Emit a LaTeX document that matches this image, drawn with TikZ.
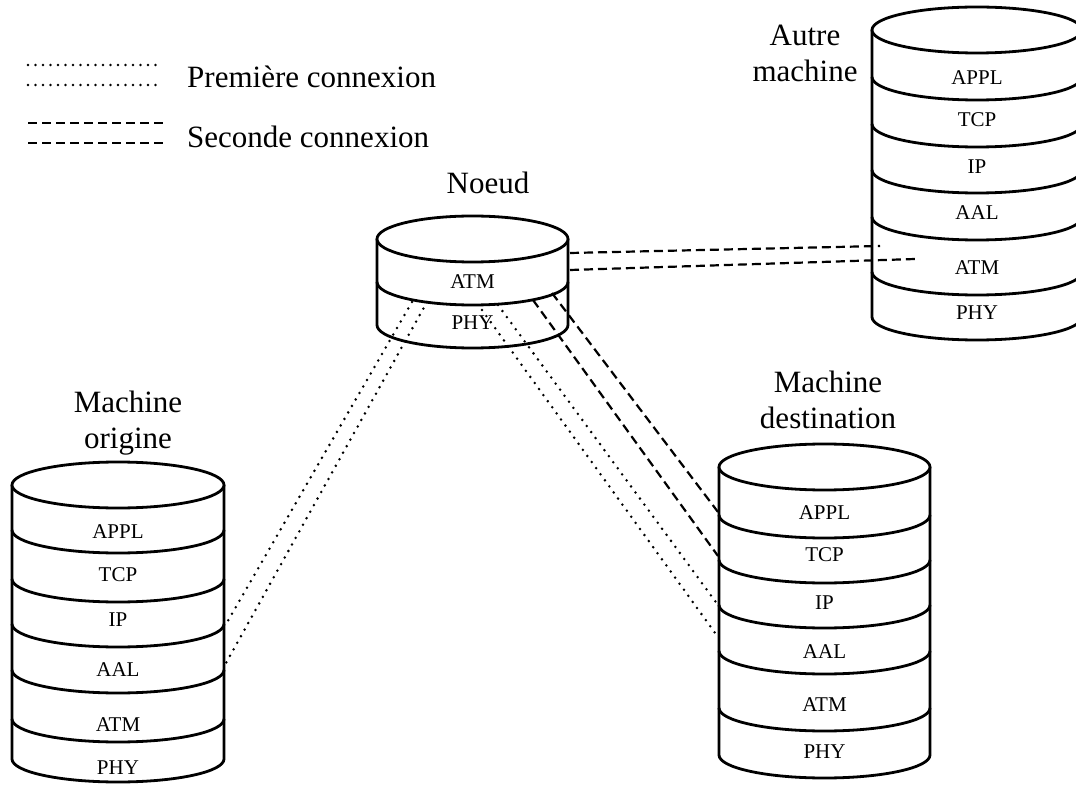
\documentclass[tikz,border=0pt]{standalone}
\usepackage{fontspec}
\setmainfont{Liberation Serif}
\usetikzlibrary{positioning}
\tikzset{
  stackline/.style={line width=2.8pt, line join=round},
  layerlabel/.style={font=\fontsize{21}{24}\selectfont, inner sep=0pt},
  machinelabel/.style={font=\fontsize{31}{36}\selectfont, align=center, inner sep=0pt},
  firstconn/.style={line width=2.8pt, line cap=round, dash pattern=on 0pt off 7.5pt},
  secondconn/.style={line width=2.2pt, dash pattern=on 9pt off 5pt},
}

\begin{document}
\begin{tikzpicture}[x=1pt,y=-1pt]
  \useasboundingbox (0,0) rectangle (1076,791);
  \clip (0,0) rectangle (1076,791);

  % Legend
  \draw[firstconn] (28,65) -- (163,65);
  \draw[firstconn] (28,85) -- (163,85);
  \draw[secondconn] (28,123) -- (163,123);
  \draw[secondconn] (28,143) -- (163,143);
  \node[machinelabel, anchor=west] (leg-first) at (187,77) {Première connexion};
  \node[machinelabel, anchor=west] (leg-second) at (187,137) {Seconde connexion};

  % Machine origine
  \node[machinelabel] (orig-title) at (128,423) {Machine\\origine};
  \draw[stackline, fill=white] (12,485) -- (12,759)
    arc[start angle=180, end angle=360, x radius=106pt, y radius=23pt] -- (224,485);
  \draw[stackline, fill=white] (118,485) ellipse[x radius=106pt, y radius=23pt];
  \foreach \by in {530,579,624,670,719}
    \draw[stackline] (12,\by) arc[start angle=180, end angle=360, x radius=106pt, y radius=23pt];
  \foreach \ly/\lab in {532/APPL,575/TCP,620/IP,670/AAL,725/ATM,768/PHY}
    \node[layerlabel] (orig-\lab) at (118,\ly) {\lab};

  % Noeud
  \node[machinelabel] (noeud-title) at (488,183) {Noeud};
  \draw[stackline, fill=white] (377,239) -- (377,325)
    arc[start angle=180, end angle=360, x radius=95.5pt, y radius=23pt] -- (568,239);
  \draw[stackline, fill=white] (472.5,239) ellipse[x radius=95.5pt, y radius=23pt];
  \draw[stackline] (377,282) arc[start angle=180, end angle=360, x radius=95.5pt, y radius=23pt];
  \foreach \ly/\lab in {282/ATM,323/PHY}
    \node[layerlabel] (noeud-\lab) at (472.5,\ly) {\lab};

  % Autre machine
  \node[machinelabel] (autre-title) at (805,53) {Autre\\machine};
  \draw[stackline, fill=white] (872,30) -- (872,317)
    arc[start angle=180, end angle=360, x radius=105pt, y radius=23pt] -- (1082,30);
  \draw[stackline, fill=white] (977,30) ellipse[x radius=105pt, y radius=23pt];
  \foreach \by in {77,124,170,217,272}
    \draw[stackline] (872,\by) arc[start angle=180, end angle=360, x radius=105pt, y radius=23pt];
  \foreach \ly/\lab in {78/APPL,120/TCP,167/IP,213/AAL,268/ATM,313/PHY}
    \node[layerlabel] (autre-\lab) at (977,\ly) {\lab};

  % Machine destination
  \node[machinelabel] (dest-title) at (828,400) {Machine\\destination};
  \draw[stackline, fill=white] (719,467) -- (719,755)
    arc[start angle=180, end angle=360, x radius=105.5pt, y radius=23pt] -- (930,467);
  \draw[stackline, fill=white] (824.5,467) ellipse[x radius=105.5pt, y radius=23pt];
  \foreach \by in {515,560,605,651,708}
    \draw[stackline] (719,\by) arc[start angle=180, end angle=360, x radius=105.5pt, y radius=23pt];
  \foreach \ly/\lab in {513/APPL,555/TCP,603/IP,652/AAL,705/ATM,752/PHY}
    \node[layerlabel] (dest-\lab) at (824.5,\ly) {\lab};

  % Connection end points
  \coordinate (noeud-o1) at (412,302);
  \coordinate (noeud-o2) at (427,302);
  \coordinate (noeud-d1) at (498,305);
  \coordinate (noeud-d2) at (482,310);
  \coordinate (noeud-d3) at (552,293);
  \coordinate (noeud-d4) at (533,300);
  \coordinate (noeud-a1) at (570,253);
  \coordinate (noeud-a2) at (570,270);
  \coordinate (orig-ip) at (226,624);
  \coordinate (orig-aal) at (226,663);
  \coordinate (dest-appl) at (718,512);
  \coordinate (dest-tcp) at (718,556);
  \coordinate (dest-ip) at (718,605);
  \coordinate (dest-aal) at (718,637);
  \coordinate (autre-a1) at (880,246);
  \coordinate (autre-a2) at (915,259);

  % Premiere connexion
  \draw[firstconn] (noeud-o1) -- (orig-ip);
  \draw[firstconn] (noeud-o2) -- (orig-aal);
  \draw[firstconn] (noeud-d1) -- (dest-ip);
  \draw[firstconn] (noeud-d2) -- (dest-aal);

  % Seconde connexion
  \draw[secondconn] (noeud-d3) -- (dest-appl);
  \draw[secondconn] (noeud-d4) -- (dest-tcp);
  \draw[secondconn] (noeud-a1) -- (autre-a1);
  \draw[secondconn] (noeud-a2) -- (autre-a2);
\end{tikzpicture}
\end{document}
